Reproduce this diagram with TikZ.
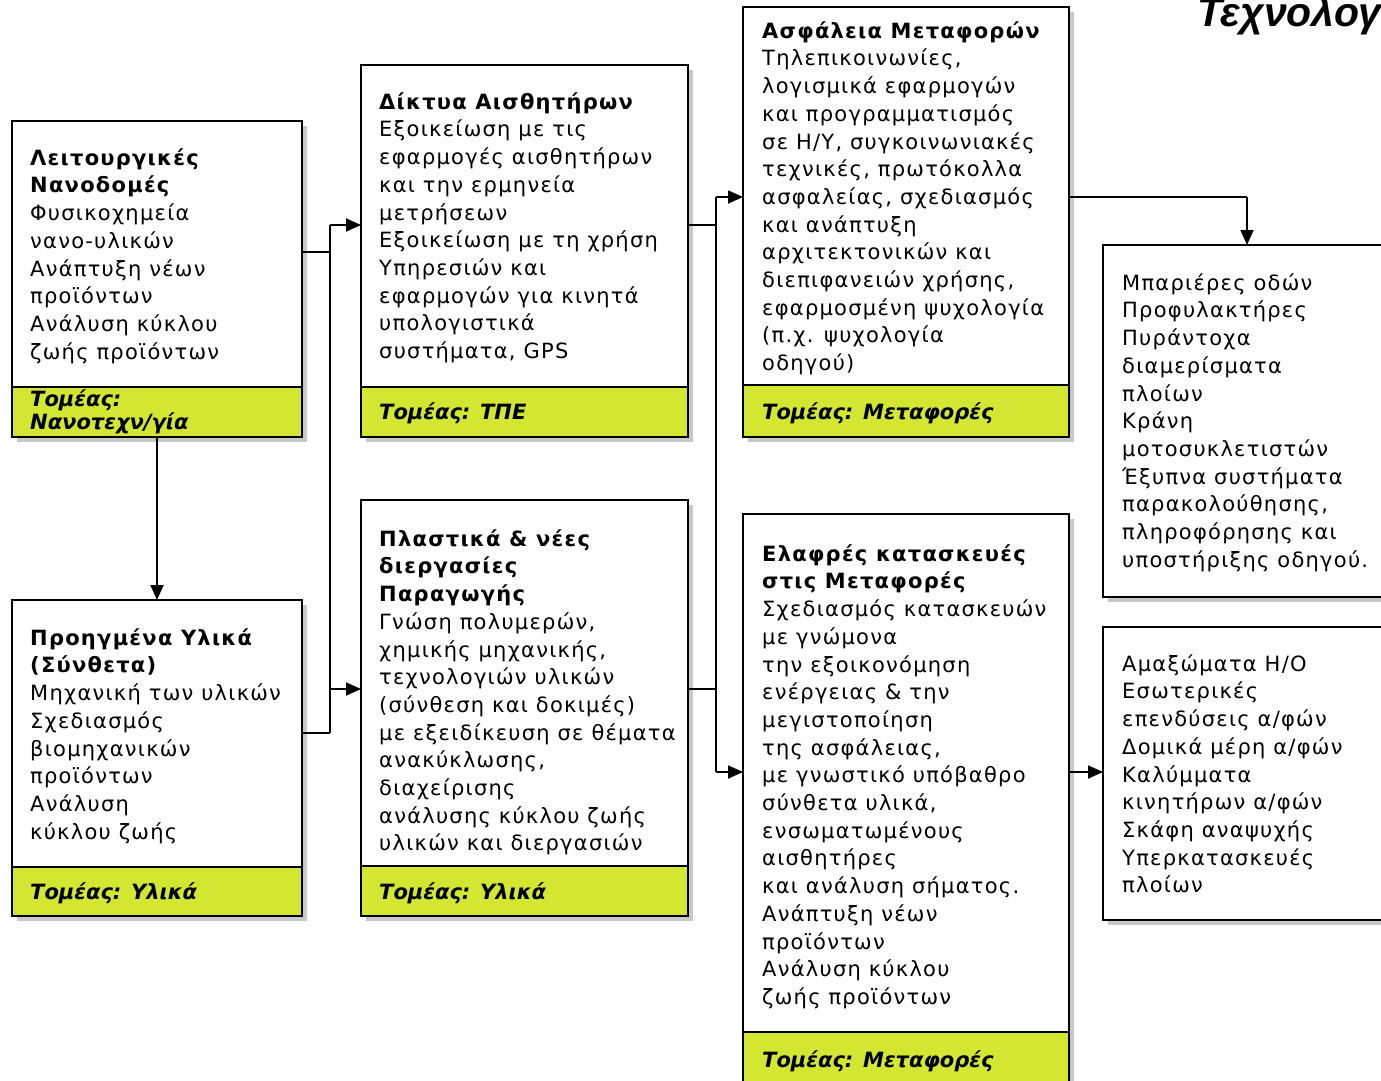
\documentclass[tikz,border=0pt]{standalone}
\usepackage{fontspec}
\setmainfont[LetterSpace=6]{DejaVu Sans}
\newfontfamily\bandfont{DejaVu Sans}
\newfontfamily\titlefont{Liberation Sans}
\usetikzlibrary{arrows.meta,shadows}
\definecolor{bandgreen}{RGB}{210,230,50}
\definecolor{shadowgray}{RGB}{200,200,200}
\tikzset{
  bx/.style={draw=black, line width=1.8pt, fill=white, inner sep=0pt, outer sep=0pt,
    anchor=north west, drop shadow={shadow xshift=5pt, shadow yshift=-5pt, fill=shadowgray, opacity=1}},
  bandfill/.style={fill=bandgreen},
  bline/.style={draw=black, line width=1.8pt},
  txt/.style={anchor=north west, inner sep=0pt, align=left, text=black,
    font=\fontsize{21pt}{27.7pt}\selectfont},
  bandtxt/.style={anchor=north west, inner sep=0pt, align=left, text=black,
    font=\bandfont\fontsize{21pt}{23pt}\selectfont\bfseries\itshape},
  conn/.style={draw=black, line width=1.8pt},
  arr/.style={conn, -{Triangle[length=15pt,width=13pt]}},
}
\newcommand\mkbox[6]{%
  \node[bx, minimum width={#4pt-#2pt}, minimum height={#5pt-#3pt}] (#1) at (#2,#3) {};
  \fill[bandfill] (#2,#6) rectangle (#4,#5);
  \draw[bline] (#2,#6) -- (#4,#6);
  \draw[bline] (#1.south west) rectangle (#1.north east);
}
\newcommand\mkplainbox[5]{%
  \node[bx, minimum width={#4pt-#2pt}, minimum height={#5pt-#3pt}] (#1) at (#2,#3) {};
}
\newcommand\fl{\rule{0pt}{22pt}}
\begin{document}
\begin{tikzpicture}[x=1pt,y=-1pt]
\useasboundingbox (0,0) rectangle (1381,1081);

% title (clipped at the right edge, as in the reference)
\node[anchor=base west, inner sep=0pt, font=\titlefont\fontsize{41pt}{41pt}\selectfont\bfseries\itshape] (title) at (1197,27) {Τεχνολογίες};

% boxes
\mkbox{b1}{12}{121}{302}{437}{387}
\mkbox{b2}{361}{65}{688}{437}{387}
\mkbox{b3}{743}{7}{1069}{437}{385}
\mkplainbox{b4}{1103}{245}{1420}{597}
\mkbox{b5}{12}{600}{302}{916}{867}
\mkbox{b6}{361}{500}{688}{916}{866}
\mkbox{b7}{743}{514}{1069}{1120}{1032}
\mkplainbox{b8}{1103}{627}{1420}{920}

% texts
\node[txt] (t1) at (30,143) {\fl\textbf{Λειτουργικές}\\\textbf{Νανοδομές}\\Φυσικοχημεία\\νανο-υλικών\\Ανάπτυξη νέων\\προϊόντων\\Ανάλυση κύκλου\\ζωής προϊόντων};
\node[bandtxt] (s1) at (30,387) {\rule{0pt}{19pt}Τομέας:\\Νανοτεχν/γία};

\node[txt] (t2) at (379,87) {\fl\textbf{Δίκτυα Αισθητήρων}\\Εξοικείωση με τις\\εφαρμογές αισθητήρων\\και την ερμηνεία\\μετρήσεων\\Εξοικείωση με τη χρήση\\Υπηρεσιών και\\εφαρμογών για κινητά\\υπολογιστικά\\συστήματα, GPS};
\node[bandtxt] (s2) at (379,397) {\fl Τομέας: ΤΠΕ};

\node[txt] (t3) at (762,16) {\fl\textbf{Ασφάλεια Μεταφορών}\\Τηλεπικοινωνίες,\\λογισμικά εφαρμογών\\και προγραμματισμός\\σε Η/Υ, συγκοινωνιακές\\τεχνικές, πρωτόκολλα\\ασφαλείας, σχεδιασμός\\και ανάπτυξη\\αρχιτεκτονικών και\\διεπιφανειών χρήσης,\\εφαρμοσμένη ψυχολογία\\(π.χ. ψυχολογία\\οδηγού)};
\node[bandtxt] (s3) at (762,397) {\fl Τομέας: Μεταφορές};

\node[txt] (t4) at (1122,268) {\fl Μπαριέρες οδών\\Προφυλακτήρες\\Πυράντοχα\\διαμερίσματα\\πλοίων\\Κράνη\\μοτοσυκλετιστών\\Έξυπνα συστήματα\\παρακολούθησης,\\πληροφόρησης και\\υποστήριξης οδηγού.};

\node[txt] (t5) at (30,623) {\fl\textbf{Προηγμένα Υλικά}\\\textbf{(Σύνθετα)}\\Μηχανική των υλικών\\Σχεδιασμός\\βιομηχανικών\\προϊόντων\\Ανάλυση\\κύκλου ζωής};
\node[bandtxt] (s5) at (30,877) {\fl Τομέας: Υλικά};

\node[txt] (t6) at (379,524) {\fl\textbf{Πλαστικά \& νέες}\\\textbf{διεργασίες}\\\textbf{Παραγωγής}\\Γνώση πολυμερών,\\χημικής μηχανικής,\\τεχνολογιών υλικών\\(σύνθεση και δοκιμές)\\με εξειδίκευση σε θέματα\\ανακύκλωσης,\\διαχείρισης\\ανάλυσης κύκλου ζωής\\υλικών και διεργασιών};
\node[bandtxt] (s6) at (379,877) {\fl Τομέας: Υλικά};

\node[txt] (t7) at (762,539) {\fl\textbf{Ελαφρές κατασκευές}\\\textbf{στις Μεταφορές}\\Σχεδιασμός κατασκευών\\με γνώμονα\\την εξοικονόμηση\\ενέργειας \& την\\μεγιστοποίηση\\της ασφάλειας,\\με γνωστικό υπόβαθρο\\σύνθετα υλικά,\\ενσωματωμένους\\αισθητήρες\\και ανάλυση σήματος.\\Ανάπτυξη νέων\\προϊόντων\\Ανάλυση κύκλου\\ζωής προϊόντων};
\node[bandtxt] (s7) at (762,1045) {\fl Τομέας: Μεταφορές};

\node[txt] (t8) at (1122,649) {\fl Αμαξώματα Η/Ο\\Εσωτερικές\\επενδύσεις α/φών\\Δομικά μέρη α/φών\\Καλύμματα\\κινητήρων α/φών\\Σκάφη αναψυχής\\Υπερκατασκευές\\πλοίων};

% junction coordinates
\coordinate (ja) at (330,252);
\coordinate (jb) at (330,733);
\coordinate (jc) at (330,225);
\coordinate (jd) at (330,689);
\coordinate (ka) at (716,225);
\coordinate (kb) at (716,689);
\coordinate (kc) at (716,197);
\coordinate (kd) at (716,772);
\coordinate (la) at (1247,197);
\coordinate (lb) at (1103,772);
\coordinate (ma) at (157,437);

% connectors
\draw[conn] (b1.east |- ja) -- (ja);
\draw[conn] (b5.east |- jb) -- (jb);
\draw[conn] (jc) -- (jb);
\draw[arr] (jc) -- (jc -| b2.west);
\draw[arr] (jd) -- (jd -| b6.west);

\draw[conn] (b2.east |- ka) -- (ka);
\draw[conn] (b6.east |- kb) -- (kb);
\draw[conn] (kc) -- (kd);
\draw[arr] (kc) -- (kc -| b3.west);
\draw[arr] (kd) -- (kd -| b7.west);

\draw[conn] (b3.east |- la) -- (la);
\draw[arr] (la) -- (la |- b4.north);
\draw[arr] (b7.east |- lb) -- (b8.west |- lb);
\draw[arr] (b1.south -| ma) -- (ma |- b5.north);
\end{tikzpicture}
\end{document}
